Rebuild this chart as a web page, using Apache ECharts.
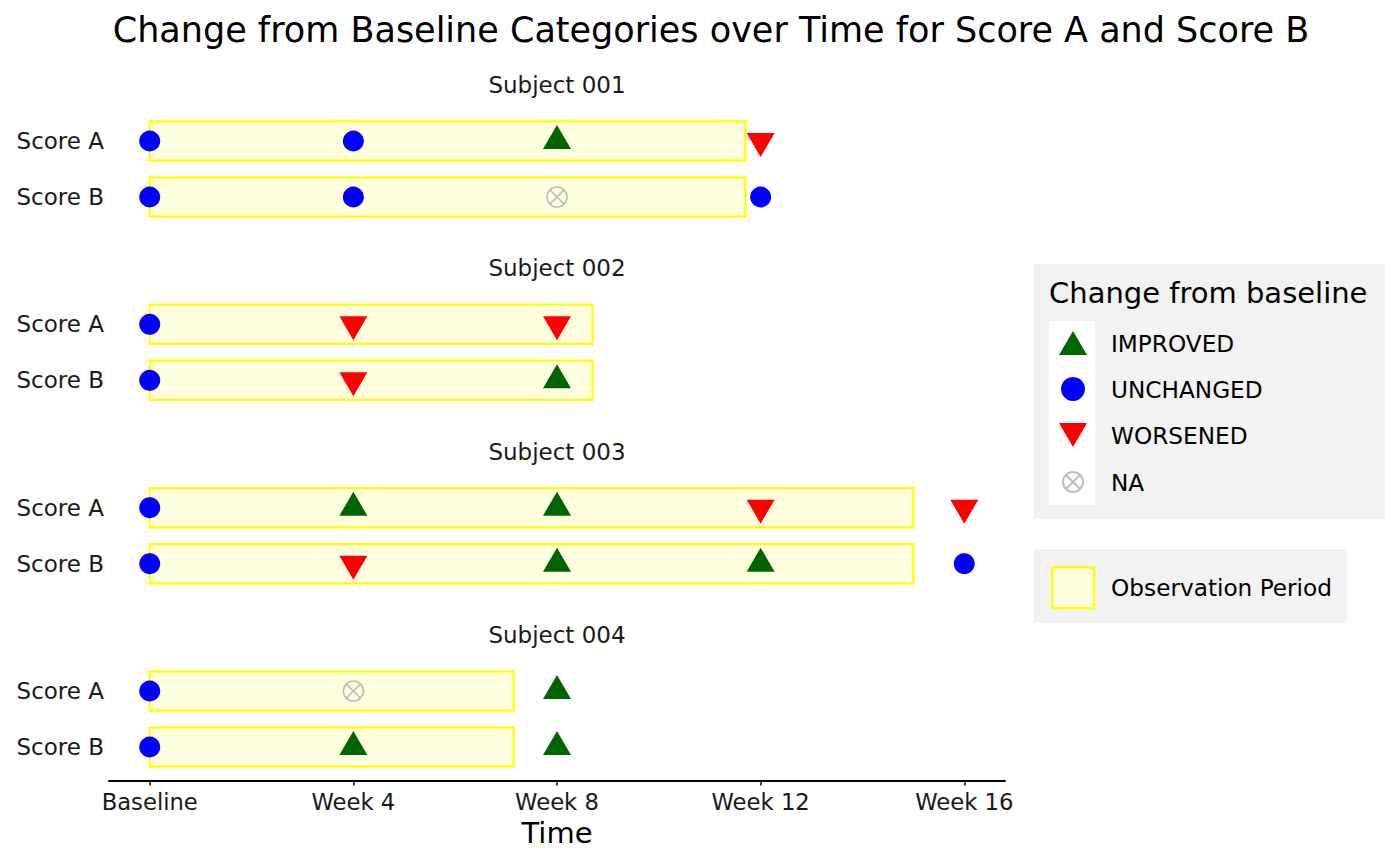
<!DOCTYPE html>
<html>
<head>
    <meta charset="utf-8">
    <title>Change from Baseline Categories</title>
    <script src="https://cdn.jsdelivr.net/npm/echarts@6/dist/echarts.min.js"></script>
    <style type="text/css">
        * { margin: 0; padding: 0; }
        body { background: #ffffff; }
    </style>
</head>
<body>
<div id="main" style="width: 1400px; height: 865px;"></div>
<script type="text/javascript">
    // data
    var timeWeeks = [0, 4, 8, 12, 16];
    var tickLabels = ['Baseline', 'Week 4', 'Week 8', 'Week 12', 'Week 16'];
    var subjects = ['Subject 001', 'Subject 002', 'Subject 003', 'Subject 004'];
    var scoreNames = ['Score B', 'Score A'];      // y = 0, y = 1
    var categories = ['IMPROVED', 'UNCHANGED', 'WORSENED', 'NA'];
    var observationEnd = [11.7, 8.7, 15.0, 7.15];  // weeks

    // category per visit (index = position in timeWeeks)
    var s001ScoreA = ['UNCHANGED', 'UNCHANGED', 'IMPROVED', 'WORSENED'];
    var s001ScoreB = ['UNCHANGED', 'UNCHANGED', 'NA', 'UNCHANGED'];
    var s002ScoreA = ['UNCHANGED', 'WORSENED', 'WORSENED'];
    var s002ScoreB = ['UNCHANGED', 'WORSENED', 'IMPROVED'];
    var s003ScoreA = ['UNCHANGED', 'IMPROVED', 'IMPROVED', 'WORSENED', 'WORSENED'];
    var s003ScoreB = ['UNCHANGED', 'WORSENED', 'IMPROVED', 'IMPROVED', 'UNCHANGED'];
    var s004ScoreA = ['UNCHANGED', 'NA', 'IMPROVED'];
    var s004ScoreB = ['UNCHANGED', 'IMPROVED', 'IMPROVED'];

    var scoreA = [s001ScoreA, s002ScoreA, s003ScoreA, s004ScoreA];
    var scoreB = [s001ScoreB, s002ScoreB, s003ScoreB, s004ScoreB];

    var FONT = 'DejaVu Sans';
    var NA_PATH = 'M10,0A10,10 0 1,1 10,20A10,10 0 1,1 10,0ZM2.93,2.93L17.07,17.07M17.07,2.93L2.93,17.07';

    // marker look per category
    var markStyle = {
        'IMPROVED': {
            symbol: 'path://M14,0L28,24L0,24Z', symbolSize: [28, 24], symbolOffset: [0, -4],
            itemStyle: { color: '#006400', opacity: 1 }
        },
        'UNCHANGED': {
            symbol: 'circle', symbolSize: 21, symbolOffset: [0, 0],
            itemStyle: { color: '#0000ff', opacity: 1 }
        },
        'WORSENED': {
            symbol: 'path://M0,0L28,0L14,24Z', symbolSize: [28, 24], symbolOffset: [0, 4],
            itemStyle: { color: '#ff0000', opacity: 1 }
        },
        'NA': {
            symbol: 'path://' + NA_PATH,
            symbolSize: 20, symbolOffset: [0, 0],
            itemStyle: { color: 'rgba(0,0,0,0)', borderColor: '#bebebe', borderWidth: 1.6, opacity: 1 }
        }
    };

    var rowA = [141, 324.3, 507.7, 691];
    var grids = [], xAxes = [], yAxes = [], series = [], titles = [];

    titles.push({
        text: 'Change from Baseline Categories over Time for Score A and Score B',
        left: 711, top: 30, textAlign: 'center', textVerticalAlign: 'middle', padding: 0,
        textStyle: { fontFamily: FONT, fontSize: 35, fontWeight: 'normal', color: '#000' }
    });

    subjects.forEach(function (subj, i) {
        var last = i === subjects.length - 1;
        grids.push({ left: 109, width: 896, top: rowA[i] - 33.6, height: 123.2 });
        titles.push({
            text: subj, left: 557, top: rowA[i] - 56, textAlign: 'center', textVerticalAlign: 'middle', padding: 0,
            textStyle: { fontFamily: FONT, fontSize: 23, fontWeight: 'normal', color: '#1a1a1a' }
        });
        xAxes.push({
            gridIndex: i, type: 'value', min: -0.8, max: 16.8, show: last,
            name: last ? 'Time' : '', nameLocation: 'middle', nameGap: 38,
            nameTextStyle: { fontFamily: FONT, fontSize: 29, color: '#000' },
            axisLine: { show: true, onZero: false, lineStyle: { color: '#000', width: 1.8 } },
            axisTick: { show: true, customValues: timeWeeks, length: 5, lineStyle: { color: '#000', width: 1.5 } },
            axisLabel: {
                customValues: timeWeeks, margin: 10, fontFamily: FONT, fontSize: 22.7, color: '#1a1a1a',
                formatter: function (v) { return tickLabels[timeWeeks.indexOf(v)]; }
            },
            splitLine: { show: false }
        });
        yAxes.push({
            gridIndex: i, type: 'value', min: -0.6, max: 1.6,
            axisLine: { show: false }, axisTick: { show: false }, splitLine: { show: false },
            axisLabel: {
                customValues: [0, 1], margin: 5, fontFamily: FONT, fontSize: 23, color: '#1a1a1a',
                formatter: function (v) { return scoreNames[v]; }
            }
        });

        // observation period box for both scores
        series.push({
            name: 'Observation Period', type: 'custom', xAxisIndex: i, yAxisIndex: i, z: 1,
            encode: { x: [0, 1], y: 2 },
            data: [[0, observationEnd[i], 1], [0, observationEnd[i], 0]],
            renderItem: function (params, api) {
                var p0 = api.coord([api.value(0), api.value(2) + 0.35]);
                var p1 = api.coord([api.value(1), api.value(2) - 0.35]);
                return {
                    type: 'rect',
                    shape: { x: p0[0], y: p0[1], width: p1[0] - p0[0], height: p1[1] - p0[1] },
                    style: { fill: '#ffffe0', stroke: '#ffff00', lineWidth: 2.2 }
                };
            }
        });

        categories.forEach(function (cat) {
            var pts = [];
            scoreA[i].forEach(function (c, k) { if (c === cat) pts.push([timeWeeks[k], 1]); });
            scoreB[i].forEach(function (c, k) { if (c === cat) pts.push([timeWeeks[k], 0]); });
            var st = markStyle[cat];
            series.push({
                name: cat, type: 'scatter', xAxisIndex: i, yAxisIndex: i, z: 3,
                symbol: st.symbol, symbolSize: st.symbolSize, symbolOffset: st.symbolOffset,
                itemStyle: st.itemStyle, emphasis: { disabled: true },
                data: pts
            });
        });
    });

    var myChart = echarts.init(document.getElementById('main'), null, { renderer: 'svg' });

    var option = {
        backgroundColor: '#ffffff',
        animation: false,
        title: titles,
        grid: grids,
        xAxis: xAxes,
        yAxis: yAxes,
        graphic: [
            { type: 'rect', z: -1, shape: { x: 1034, y: 264, width: 351, height: 255 }, style: { fill: '#f2f2f2' } },
            { type: 'rect', z: -1, shape: { x: 1049, y: 321, width: 46, height: 184 }, style: { fill: '#ffffff' } },
            { type: 'rect', z: -1, shape: { x: 1034, y: 549, width: 313, height: 74 }, style: { fill: '#f2f2f2' } },
            {
                type: 'text', x: 1049, y: 293, z: 5,
                style: { text: 'Change from baseline', fontFamily: FONT, fontSize: 29, fill: '#000', verticalAlign: 'middle' }
            }
        ],
        legend: [
            {
                data: [
                    'IMPROVED', 'UNCHANGED', 'WORSENED',
                    // padded path so the NA key keeps the marker size inside the 28x24 key
                    { name: 'NA', icon: 'path://M-4,-2L-4,-2M24,22L24,22' + NA_PATH }
                ],
                orient: 'vertical', left: 1058, top: 331, padding: 0,
                itemWidth: 28, itemHeight: 24, itemGap: 22, selectedMode: false,
                textStyle: { fontFamily: FONT, fontSize: 23.2, color: '#000', padding: [0, 0, 0, 19] }
            },
            {
                data: [{ name: 'Observation Period', icon: 'rect',
                         itemStyle: { color: '#ffffe0', borderColor: '#ffff00', borderWidth: 2.2 } }],
                orient: 'vertical', left: 1051, top: 566, padding: 0,
                itemWidth: 42, itemHeight: 41, selectedMode: false,
                textStyle: { fontFamily: FONT, fontSize: 23.2, color: '#000', padding: [0, 0, 0, 12] }
            }
        ],
        series: series
    };

    myChart.setOption(option);

    window.addEventListener('resize', function () {
        myChart.resize();
    });
</script>
</body>
</html>
